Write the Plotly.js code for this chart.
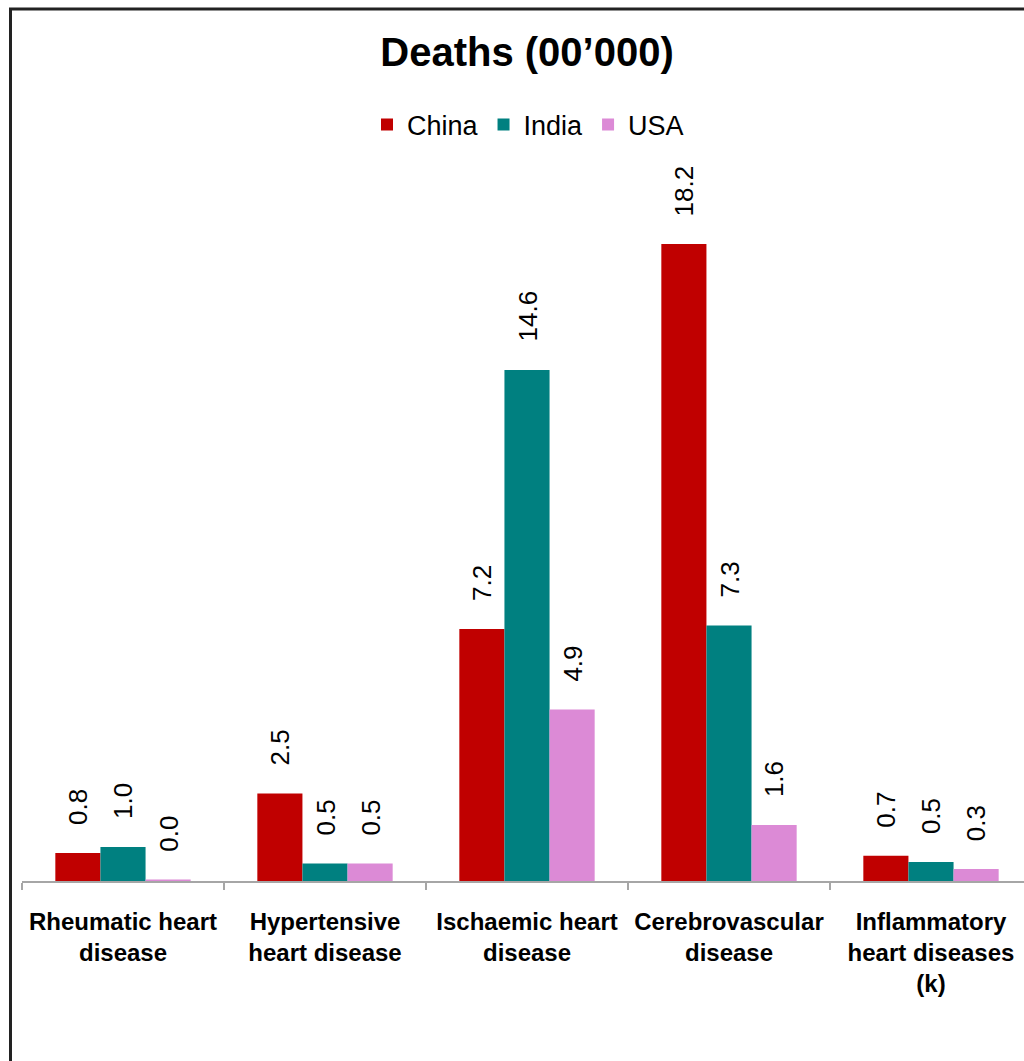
<!DOCTYPE html>
<html>
<head>
<meta charset="utf-8">
<script src="https://cdn.plot.ly/plotly-3.0.1.min.js"></script>
<style>
html,body{margin:0;padding:0;background:#fff;}
#chart{width:1024px;height:1061px;}
</style>
</head>
<body>
<div id="chart"></div>
<script>
const categories = [
  'Rheumatic heart<br>disease',
  'Hypertensive<br>heart disease',
  'Ischaemic heart<br>disease',
  'Cerebrovascular<br>disease',
  'Inflammatory<br>heart diseases<br>(k)'
];
const seriesNames = ['China', 'India', 'USA'];
const china = [0.8, 2.5, 7.2, 18.2, 0.72];
const india = [0.97, 0.5, 14.6, 7.3, 0.54];
const usa = [0.04, 0.5, 4.9, 1.6, 0.34];
const colors = ['#c00000', '#008080', '#dc8ad6'];

const W = 1024, H = 1061;
const mL = 22, mR = 0, mT = 150, mB = 180;
const plotW = W - mL - mR, plotH = H - mT - mB;
const pxPerCat = 202;
const pxPerUnit = 35;
const bargap = 0.33;
const font = 'Liberation Sans, Arial, sans-serif';

const allSeries = [china, india, usa];
const traces = allSeries.map((vals, k) => ({
  type: 'bar',
  name: seriesNames[k],
  x: categories,
  y: vals,
  marker: {color: colors[k]},
  hoverinfo: 'x+y+name'
}));

const w = (1 - bargap) / 3;
const annotations = [];
allSeries.forEach((vals, k) => {
  vals.forEach((v, i) => {
    annotations.push({
      x: i + (k - 1) * w,
      y: v,
      xref: 'x', yref: 'y',
      text: v.toFixed(1),
      textangle: -90,
      showarrow: false,
      xanchor: 'center',
      yanchor: 'bottom',
      yshift: 26,
      font: {family: font, size: 26, color: '#000'}
    });
  });
});

// frame lines (top and left)
const px2paperX = p => (p - mL) / plotW;
const px2paperY = p => (H - mB - p) / plotH;
const shapes = [
  {type: 'line', xref: 'paper', yref: 'paper',
   x0: px2paperX(9), x1: px2paperX(1030), y0: px2paperY(9), y1: px2paperY(9),
   line: {color: '#222', width: 3}},
  {type: 'line', xref: 'paper', yref: 'paper',
   x0: px2paperX(10.5), x1: px2paperX(10.5), y0: px2paperY(8), y1: px2paperY(1070),
   line: {color: '#222', width: 3}}
];

const layout = {
  width: W, height: H,
  margin: {l: mL, r: mR, t: mT, b: mB, pad: 0},
  paper_bgcolor: '#fff',
  plot_bgcolor: '#fff',
  font: {family: font, color: '#000'},
  title: {
    text: "<b>Deaths (00’000)</b>",
    font: {family: font, size: 40, color: '#000'},
    x: 527 / W, xanchor: 'center', xref: 'container',
    y: 1 - 52 / H, yanchor: 'middle', yref: 'container'
  },
  showlegend: true,
  legend: {
    orientation: 'h',
    x: px2paperX(528), xanchor: 'center',
    y: px2paperY(125), yanchor: 'middle',
    font: {family: font, size: 27, color: '#000'},
    bgcolor: 'rgba(0,0,0,0)',
    itemclick: false
  },
  barmode: 'group',
  bargap: bargap,
  bargroupgap: 0,
  xaxis: {
    type: 'category',
    range: [-0.5, -0.5 + plotW / pxPerCat],
    tickson: 'boundaries',
    ticks: 'outside',
    ticklen: 7,
    tickwidth: 2,
    tickcolor: '#a6a6a6',
    showline: true,
    linecolor: '#a6a6a6',
    linewidth: 2,
    showgrid: false,
    zeroline: false,
    tickfont: {family: font, size: 24, color: '#000', weight: 'bold'},
    ticklabelstandoff: 18,
    fixedrange: true
  },
  yaxis: {
    visible: false,
    range: [0, plotH / pxPerUnit],
    showgrid: false,
    zeroline: false,
    fixedrange: true
  },
  annotations: annotations,
  shapes: shapes
};

Plotly.newPlot('chart', traces, layout, {displayModeBar: false, staticPlot: true});
</script>
</body>
</html>
